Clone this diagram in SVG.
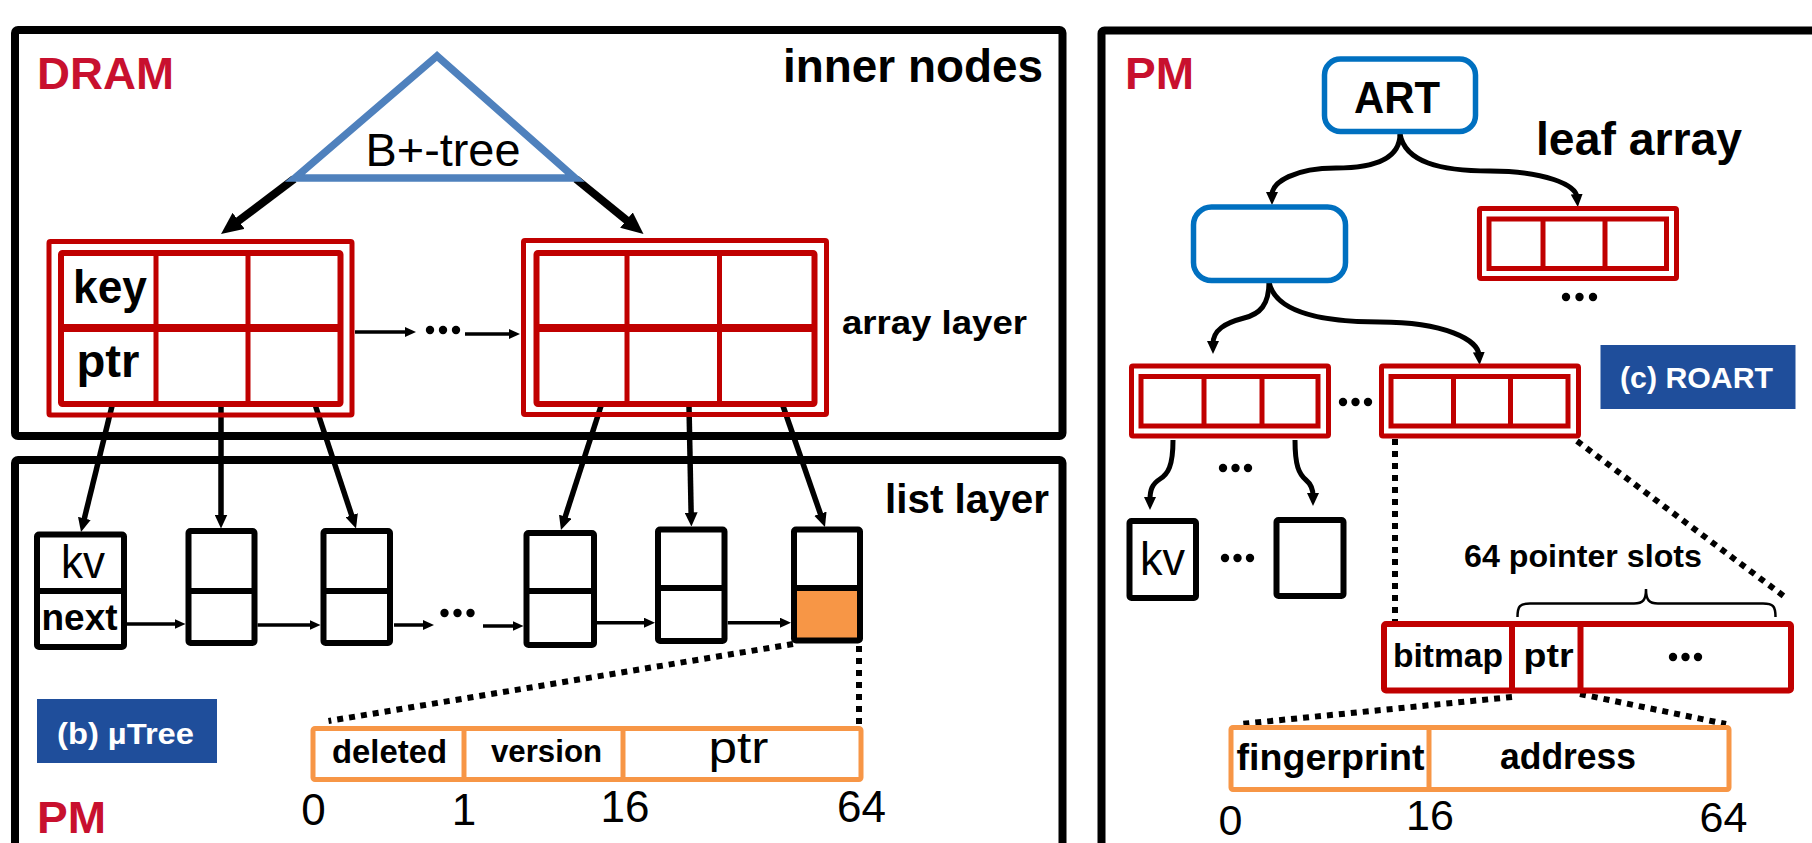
<svg xmlns="http://www.w3.org/2000/svg" width="1812" height="843" viewBox="0 0 1812 843">
<style>
.frame{fill:none;stroke:#000;stroke-width:8}
.t{font-family:"Liberation Sans",Arial,sans-serif;fill:#000}
.b{font-weight:bold}
.lbl{fill:#C8102E}
.w{fill:#fff}
.ro{fill:none;stroke:#C00000;stroke-width:5}
.ri{fill:none;stroke:#C00000;stroke-width:6}
.rl{stroke:#C00000;stroke-width:5}
.bx{fill:none;stroke:#000;stroke-width:6}
.bl{stroke:#000;stroke-width:6}
.blue{fill:none;stroke:#0070C0;stroke-width:5.5}
.or{fill:none;stroke:#F79646;stroke-width:5}
.orl{stroke:#F79646;stroke-width:5}
.big{fill:none;stroke:#000;stroke-width:8;marker-end:url(#ahBig)}
.med{fill:none;stroke:#000;stroke-width:5.5;marker-end:url(#ahMed)}
.sm{fill:none;stroke:#000;stroke-width:3.5;marker-end:url(#ahSm)}
.cv{fill:none;stroke:#000;stroke-width:5;marker-end:url(#ahCv)}
.dot{fill:none;stroke:#000;stroke-width:6;stroke-dasharray:6 6}
.dt{fill:#000}
.tag{fill:#1F4E9B}
</style>
<defs>
<marker id="ahBig" markerUnits="userSpaceOnUse" markerWidth="22" markerHeight="20" refX="6" refY="10" orient="auto" viewBox="0 0 22 20"><path d="M0,0 L22,10 L0,20 z" fill="#000"/></marker>
<marker id="ahMed" markerUnits="userSpaceOnUse" markerWidth="14" markerHeight="13" refX="4" refY="6.5" orient="auto" viewBox="0 0 14 13"><path d="M0,0 L14,6.5 L0,13 z" fill="#000"/></marker>
<marker id="ahSm" markerUnits="userSpaceOnUse" markerWidth="11" markerHeight="10" refX="3" refY="5" orient="auto" viewBox="0 0 11 10"><path d="M0,0 L11,5 L0,10 z" fill="#000"/></marker>
<marker id="ahCv" markerUnits="userSpaceOnUse" markerWidth="13" markerHeight="12" refX="3" refY="6" orient="auto" viewBox="0 0 13 12"><path d="M0,0 L13,6 L0,12 z" fill="#000"/></marker>
</defs>
<rect width="1812" height="843" fill="#fff"/>

<g id="frames">
<rect class="frame" x="15" y="30" width="1047.5" height="406" rx="3"/>
<rect class="frame" x="15" y="460" width="1047.5" height="500" rx="3"/>
<rect class="frame" x="1101.5" y="30.5" width="800" height="900" rx="3"/>
</g>

<g id="connectors">
<line class="big" x1="294" y1="179" x2="233.8" y2="224.4"/>
<line class="big" x1="576" y1="179" x2="631.1" y2="223.9"/>
<line class="sm" x1="355" y1="332" x2="408" y2="332"/>
<line class="sm" x1="465" y1="334" x2="512" y2="334"/>
<line class="med" x1="112" y1="406" x2="83.4" y2="522.3"/>
<line class="med" x1="221" y1="406" x2="221" y2="518.5"/>
<line class="med" x1="315.5" y1="406" x2="352.9" y2="519"/>
<line class="med" x1="601" y1="406" x2="564" y2="520.5"/>
<line class="med" x1="689" y1="406" x2="691.2" y2="516.5"/>
<line class="med" x1="783" y1="406" x2="821.7" y2="517.5"/>
<line class="sm" x1="127" y1="624" x2="177.5" y2="624"/>
<line class="sm" x1="257.5" y1="625" x2="312.5" y2="625"/>
<line class="sm" x1="394" y1="625" x2="426" y2="625"/>
<line class="sm" x1="483" y1="626" x2="515.5" y2="626"/>
<line class="sm" x1="597" y1="622.7" x2="647" y2="622.7"/>
<line class="sm" x1="727.7" y1="622.7" x2="783" y2="622.7"/>
<line class="dot" x1="793" y1="644" x2="328.5" y2="721"/>
<line class="dot" x1="859" y1="646" x2="859" y2="726"/>
<path class="cv" d="M1400,134 C1400,158 1375,168 1336,168 C1295,168 1272,182 1272,195"/>
<path class="cv" d="M1400,134 C1405,162 1440,171 1490,171 C1545,171 1576,185 1577,197"/>
<path class="cv" d="M1269,282 C1269,305 1260,314 1244,318 C1225,323 1213,330 1213,344"/>
<path class="cv" d="M1269,282 C1275,312 1320,322 1380,322 C1445,322 1478,340 1479,355"/>
<path class="cv" d="M1173,440 C1173,466 1168,474 1160,479 C1152,484 1150,490 1150,500"/>
<path class="cv" d="M1295,440 C1295,466 1299,474 1306,480 C1312,485 1313,490 1313,496"/>
<line class="dot" x1="1395" y1="439" x2="1395" y2="621"/>
<line class="dot" x1="1577" y1="441" x2="1785" y2="597"/>
<line class="dot" x1="1512" y1="697" x2="1241" y2="724"/>
<line class="dot" x1="1580" y1="694" x2="1726" y2="724"/>
<path d="M1517.5,617 C1517.5,606 1520,603.5 1530,603.5 L1634,603.5 C1643,603.5 1646,600 1646,589 C1646,600 1649,603.5 1658,603.5 L1763,603.5 C1773,603.5 1775.5,606 1775.5,617" fill="none" stroke="#000" stroke-width="2.5"/>
</g>

<g id="dram-label"><text class="t b lbl" x="37" y="89" font-size="45" textLength="137" lengthAdjust="spacingAndGlyphs">DRAM</text></g>
<g id="inner-nodes-label"><text class="t b" x="783" y="82" font-size="46" textLength="260" lengthAdjust="spacingAndGlyphs">inner nodes</text></g>

<g id="bplus-tree">
<polygon points="437,56 295,178 575,178" fill="none" stroke="#4F81BD" stroke-width="7.5" stroke-linejoin="miter"/>
<text class="t" x="365.5" y="166" font-size="46" textLength="155" lengthAdjust="spacingAndGlyphs">B+-tree</text>
</g>

<g id="array-node-1">
<rect class="ro" x="49" y="241.5" width="303" height="173.5" rx="1.5"/>
<rect class="ri" x="61" y="253" width="279.5" height="151" rx="1.5"/>
<line class="rl" x1="156" y1="253" x2="156" y2="404"/>
<line class="rl" x1="248" y1="253" x2="248" y2="404"/>
<line x1="61" y1="328" x2="340.5" y2="328" stroke="#C00000" stroke-width="8"/>
<text class="t b" x="73" y="303" font-size="46" textLength="74" lengthAdjust="spacingAndGlyphs">key</text>
<text class="t b" x="76.5" y="377" font-size="46" textLength="63" lengthAdjust="spacingAndGlyphs">ptr</text>
</g>
<g id="array-dots"><circle class="dt" cx="430" cy="330" r="4.2"/><circle class="dt" cx="443" cy="330" r="4.2"/><circle class="dt" cx="456" cy="330" r="4.2"/></g>
<g id="array-node-2">
<rect class="ro" x="523.5" y="240.5" width="303" height="174" rx="1.5"/>
<rect class="ri" x="536.5" y="253" width="278" height="151" rx="1.5"/>
<line class="rl" x1="627" y1="253" x2="627" y2="404"/>
<line class="rl" x1="719.5" y1="253" x2="719.5" y2="404"/>
<line x1="536.5" y1="328" x2="814.5" y2="328" stroke="#C00000" stroke-width="8"/>
</g>
<g id="array-layer-label"><text class="t b" x="842" y="334" font-size="34" textLength="185" lengthAdjust="spacingAndGlyphs">array layer</text></g>
<g id="list-layer-label"><text class="t b" x="885" y="513" font-size="41" textLength="164" lengthAdjust="spacingAndGlyphs">list layer</text></g>

<g id="list-node-1">
<rect class="bx" x="37" y="534.5" width="87" height="112.5" rx="2"/>
<line class="bl" x1="37" y1="591" x2="124" y2="591"/>
<text class="t" x="61" y="578" font-size="46" textLength="44" lengthAdjust="spacingAndGlyphs">kv</text>
<text class="t b" x="41.5" y="630" font-size="36" textLength="76" lengthAdjust="spacingAndGlyphs">next</text>
</g>
<g id="list-node-2"><rect class="bx" x="188.5" y="531" width="66" height="112" rx="2"/><line class="bl" x1="188.5" y1="591" x2="254.5" y2="591"/></g>
<g id="list-node-3"><rect class="bx" x="323.5" y="531" width="66.5" height="112" rx="2"/><line class="bl" x1="323.5" y1="591" x2="390" y2="591"/></g>
<g id="list-dots"><circle class="dt" cx="444.5" cy="613" r="4.2"/><circle class="dt" cx="457.5" cy="613" r="4.2"/><circle class="dt" cx="470.5" cy="613" r="4.2"/></g>
<g id="list-node-4"><rect class="bx" x="526.5" y="533" width="67.5" height="112" rx="2"/><line class="bl" x1="526.5" y1="591" x2="594" y2="591"/></g>
<g id="list-node-5"><rect class="bx" x="658" y="529.5" width="66.5" height="111.5" rx="2"/><line class="bl" x1="658" y1="588" x2="724.5" y2="588"/></g>
<g id="list-node-6">
<rect x="794" y="588" width="66" height="52.5" fill="#F79646"/>
<rect class="bx" x="794" y="529.5" width="66" height="111" rx="2"/>
<line class="bl" x1="794" y1="588" x2="860" y2="588"/>
</g>

<g id="utree-tag">
<rect class="tag" x="37" y="699" width="180" height="64"/>
<text class="t b w" x="57" y="743.5" font-size="30" textLength="137" lengthAdjust="spacingAndGlyphs">(b) µTree</text>
</g>
<g id="pm-label-left"><text class="t b lbl" x="37" y="833" font-size="45" textLength="69" lengthAdjust="spacingAndGlyphs">PM</text></g>

<g id="utree-entry">
<rect class="or" x="313" y="728.5" width="548" height="51" rx="2"/>
<line class="orl" x1="464" y1="728.5" x2="464" y2="779.5"/>
<line class="orl" x1="623" y1="728.5" x2="623" y2="779.5"/>
<text class="t b" x="332" y="762.5" font-size="33" textLength="115" lengthAdjust="spacingAndGlyphs">deleted</text>
<text class="t b" x="491" y="762" font-size="32" textLength="111" lengthAdjust="spacingAndGlyphs">version</text>
<text class="t" x="708.5" y="763" font-size="44" textLength="60" lengthAdjust="spacingAndGlyphs">ptr</text>
<text class="t" x="313.5" y="825" font-size="44" text-anchor="middle">0</text>
<text class="t" x="464" y="825" font-size="44" text-anchor="middle">1</text>
<text class="t" x="625" y="822" font-size="44" text-anchor="middle">16</text>
<text class="t" x="861.5" y="822" font-size="44" text-anchor="middle">64</text>
</g>

<g id="pm-label-right"><text class="t b lbl" x="1125" y="89" font-size="45" textLength="69" lengthAdjust="spacingAndGlyphs">PM</text></g>
<g id="art-root">
<rect class="blue" x="1324.5" y="59" width="151" height="72.5" rx="16"/>
<text class="t b" x="1354" y="112.5" font-size="45" textLength="86" lengthAdjust="spacingAndGlyphs">ART</text>
</g>
<g id="leaf-array-label"><text class="t b" x="1536" y="155" font-size="47" textLength="206" lengthAdjust="spacingAndGlyphs">leaf array</text></g>
<g id="art-inner"><rect class="blue" x="1193.5" y="207" width="152" height="73.5" rx="18"/></g>
<g id="leaf-array-1">
<rect class="ro" x="1479.5" y="208.5" width="197" height="70" rx="1.5"/>
<rect class="ro" x="1489" y="219" width="177.5" height="49.5" stroke-width="5.5"/>
<line class="rl" x1="1543" y1="219" x2="1543" y2="268.5"/>
<line class="rl" x1="1605" y1="219" x2="1605" y2="268.5"/>
</g>
<g id="leaf-dots-1"><circle class="dt" cx="1566" cy="297" r="4.2"/><circle class="dt" cx="1579.5" cy="297" r="4.2"/><circle class="dt" cx="1593" cy="297" r="4.2"/></g>
<g id="leaf-array-2">
<rect class="ro" x="1131.5" y="366" width="197" height="70" rx="1.5"/>
<rect class="ro" x="1141" y="376.5" width="177" height="49.5" stroke-width="5.5"/>
<line class="rl" x1="1204" y1="376.5" x2="1204" y2="426"/>
<line class="rl" x1="1262" y1="376.5" x2="1262" y2="426"/>
</g>
<g id="leaf-dots-2"><circle class="dt" cx="1343" cy="402" r="4.2"/><circle class="dt" cx="1355.5" cy="402" r="4.2"/><circle class="dt" cx="1368" cy="402" r="4.2"/></g>
<g id="leaf-array-3">
<rect class="ro" x="1381.5" y="366" width="197" height="70" rx="1.5"/>
<rect class="ro" x="1391" y="376.5" width="177" height="49.5" stroke-width="5.5"/>
<line class="rl" x1="1453.5" y1="376.5" x2="1453.5" y2="426"/>
<line class="rl" x1="1510.5" y1="376.5" x2="1510.5" y2="426"/>
</g>
<g id="roart-tag">
<rect class="tag" x="1600.5" y="345" width="195" height="64"/>
<text class="t b w" x="1620" y="388" font-size="30" textLength="153" lengthAdjust="spacingAndGlyphs">(c) ROART</text>
</g>
<g id="kv-dots-1"><circle class="dt" cx="1223" cy="468" r="4.2"/><circle class="dt" cx="1235.5" cy="468" r="4.2"/><circle class="dt" cx="1248" cy="468" r="4.2"/></g>
<g id="kv-leaf">
<rect class="bx" x="1129.5" y="521" width="66.5" height="77" stroke-width="5.5" rx="2"/>
<text class="t" x="1140" y="575" font-size="46" textLength="45" lengthAdjust="spacingAndGlyphs">kv</text>
</g>
<g id="kv-dots-2"><circle class="dt" cx="1225" cy="558" r="4.2"/><circle class="dt" cx="1237.5" cy="558" r="4.2"/><circle class="dt" cx="1250" cy="558" r="4.2"/></g>
<g id="empty-leaf"><rect class="bx" x="1276.5" y="520" width="67" height="76" stroke-width="5.5" rx="2"/></g>
<g id="pointer-slots-label"><text class="t b" x="1464" y="566.5" font-size="32" textLength="238" lengthAdjust="spacingAndGlyphs">64 pointer slots</text></g>
<g id="bitmap-bar">
<rect class="ri" x="1384" y="624" width="407" height="66.5" rx="2"/>
<line x1="1512" y1="624" x2="1512" y2="690.5" stroke="#C00000" stroke-width="6"/>
<line x1="1580.5" y1="624" x2="1580.5" y2="690.5" stroke="#C00000" stroke-width="6"/>
<text class="t b" x="1393" y="667" font-size="33.5" textLength="110" lengthAdjust="spacingAndGlyphs">bitmap</text>
<text class="t b" x="1523.5" y="667" font-size="34" textLength="50" lengthAdjust="spacingAndGlyphs">ptr</text>
<circle class="dt" cx="1673" cy="657" r="4.2"/><circle class="dt" cx="1685.5" cy="657" r="4.2"/><circle class="dt" cx="1698" cy="657" r="4.2"/>
</g>
<g id="roart-entry">
<rect class="or" x="1231" y="727.5" width="498" height="62" rx="2"/>
<line class="orl" x1="1429" y1="727.5" x2="1429" y2="789.5"/>
<text class="t b" x="1236.5" y="770" font-size="37" textLength="188" lengthAdjust="spacingAndGlyphs">fingerprint</text>
<text class="t b" x="1500" y="768.5" font-size="36" textLength="136" lengthAdjust="spacingAndGlyphs">address</text>
<text class="t" x="1230.5" y="835" font-size="43" text-anchor="middle">0</text>
<text class="t" x="1430" y="830" font-size="43" text-anchor="middle">16</text>
<text class="t" x="1723.5" y="831.5" font-size="43" text-anchor="middle">64</text>
</g>
</svg>
